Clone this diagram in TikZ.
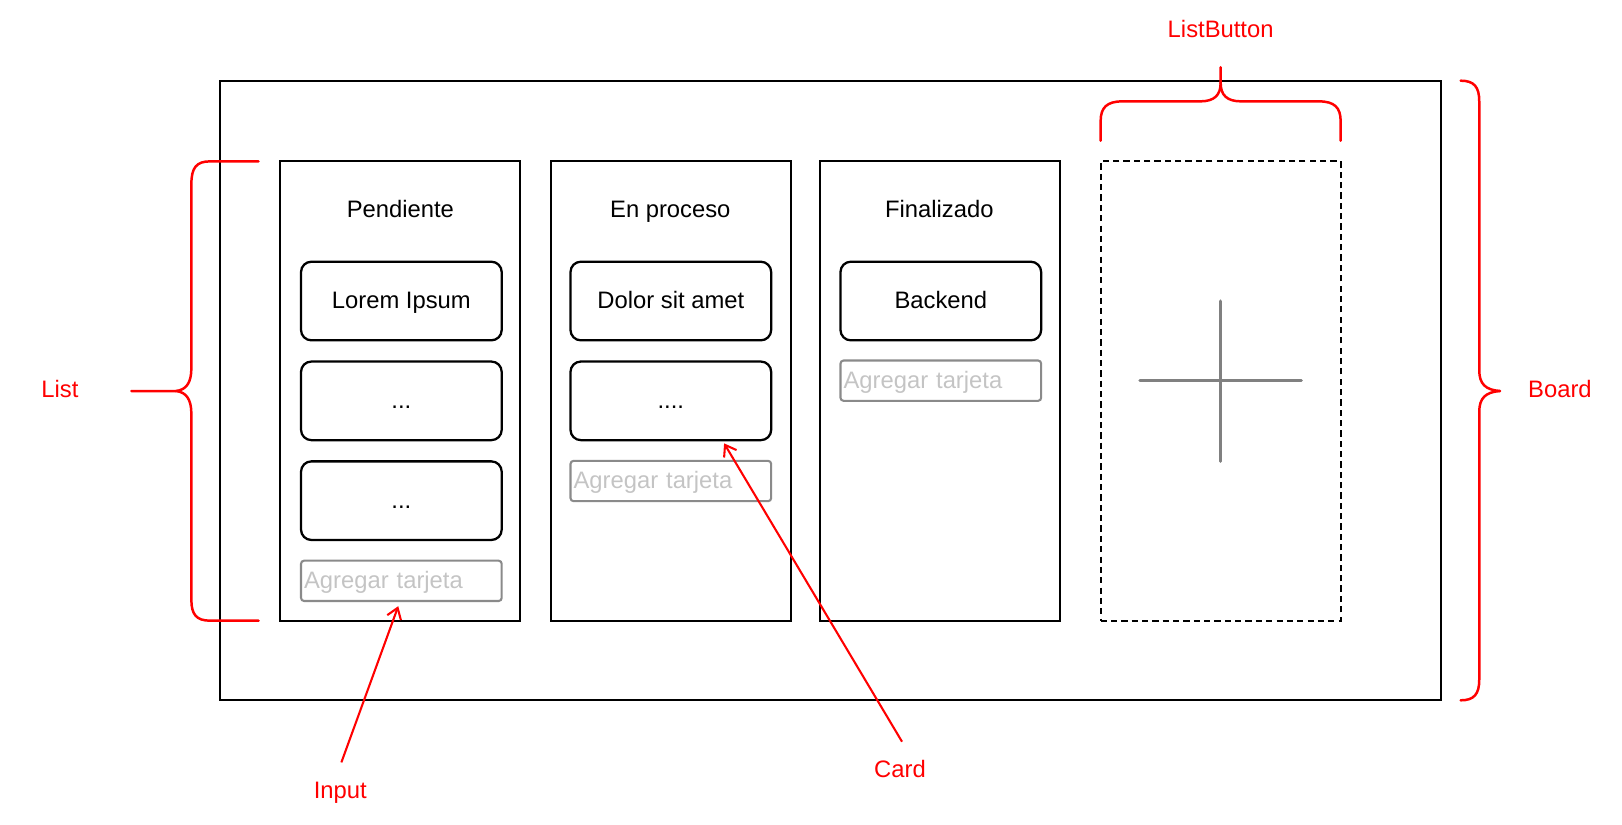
\documentclass[tikz,border=0pt]{standalone}
\usepackage{fontspec}
\setmainfont{Liberation Sans}
\usetikzlibrary{arrows.meta,calc}
\definecolor{inpborder}{HTML}{8A8A8A}
\definecolor{inptext}{HTML}{C4C4C4}
\definecolor{plusgray}{HTML}{808080}
\definecolor{annot}{HTML}{FF0000}
\tikzset{
  capbox/.style={text height=0.716em, text depth=0pt},
  boardbox/.style={draw=black, line width=1pt, minimum width=590pt, minimum height=299.5pt, inner sep=0pt},
  listbox/.style={draw=black, line width=1pt, minimum width=116pt, minimum height=222pt, inner sep=0pt},
  addlist/.style={draw=black, line width=0.9pt, dash pattern=on 3pt off 2pt, minimum width=116pt, minimum height=222pt, inner sep=0pt},
  cardbox/.style={capbox, draw=black, line width=1.1pt, rounded corners=5pt, minimum width=97pt, minimum height=38pt, inner sep=0pt},
  inputbox/.style={capbox, draw=inpborder, line width=1pt, rounded corners=1.5pt, minimum height=19.5pt, text width=94pt, inner xsep=1.5pt, inner ysep=0pt, align=left, text=inptext},
  title/.style={capbox, inner sep=0pt, text=black},
  annotlabel/.style={capbox, inner sep=0pt, text=annot},
  brace/.style={draw=annot, line width=1.2pt, line cap=round, line join=round},
  annotarrow/.style={draw=annot, line width=1pt, -{Straight Barb[length=5pt,width=7pt]}},
  plusline/.style={draw=plusgray, line width=1.5pt, line cap=round}
}
\begin{document}
\begin{tikzpicture}[x=0.5pt,y=-0.5pt, font=\fontsize{11.5}{13}\selectfont]
\useasboundingbox (0,0) rectangle (1568,797);
% board
\node[boardbox] (board) at (803,377.5) {};
% lists
\node[listbox] (l1) at (387,378) {};
\node[listbox] (l2) at (649,378) {};
\node[listbox] (l3) at (909,378) {};
\node[addlist] (lb) at (1180,378) {};
% titles
\node[title] (t1) at (387,203) {Pendiente};
\node[title] (t2) at (648,203) {En proceso};
\node[title] (t3) at (908,203) {Finalizado};
% cards
\node[cardbox] (c11) at (388,291) {Lorem Ipsum};
\node[cardbox] (c12) at (388,387.5) {...};
\node[cardbox] (c13) at (388,484) {...};
\node[inputbox] (in1) at (388,561.5) {Agregar tarjeta};
\node[cardbox] (c21) at (648.5,291) {Dolor sit amet};
\node[cardbox] (c22) at (648.5,387.5) {....};
\node[inputbox] (in2) at (648.5,465) {Agregar tarjeta};
\node[cardbox] (c31) at (909.5,291) {Backend};
\node[inputbox] (in3) at (909.5,368) {Agregar tarjeta};
% plus
\coordinate (pt) at (1180,291);
\coordinate (pb) at (1180,446);
\coordinate (pl) at (1102,368);
\coordinate (pr) at (1258,368);
\draw[plusline] (pt) -- (pb);
\draw[plusline] (pl) -- (pr);
% labels
\node[annotlabel] (lblList) at (58,377) {List};
\node[annotlabel] (lblListButton) at (1180,29) {ListButton};
\node[annotlabel] (lblBoard) at (1508,377) {Board};
\node[annotlabel] (lblInput) at (329,765) {Input};
\node[annotlabel] (lblCard) at (870,744) {Card};
% List brace
\draw[brace] (250,156) -- (203,156) .. controls (190,156) and (185,162) .. (185,178)
  -- (185,356) .. controls (185,370) and (180,377) .. (170,378) -- (127,378);
\draw[brace] (170,378) .. controls (180,379) and (185,386) .. (185,400)
  -- (185,580) .. controls (185,594) and (190,600) .. (203,600) -- (250,600);
% ListButton brace
\draw[brace] (1064,136) -- (1064,117) .. controls (1064,104) and (1070,98) .. (1085,98)
  -- (1160,98) .. controls (1174,98) and (1180,92) .. (1180,80) -- (1180,65);
\draw[brace] (1180,80) .. controls (1180,92) and (1186,98) .. (1200,98)
  -- (1275,98) .. controls (1290,98) and (1296,104) .. (1296,117) -- (1296,136);
% Board brace
\draw[brace] (1412,78) .. controls (1425,78) and (1430,84) .. (1430,98)
  -- (1430,358) .. controls (1430,371) and (1436,377) .. (1450,378);
\draw[brace] (1450,378) .. controls (1436,379) and (1430,385) .. (1430,398)
  -- (1430,657) .. controls (1430,671) and (1425,677) .. (1412,677);
% arrows
\coordinate (inputStart) at (330,737);
\coordinate (cardStart) at (872,717);
\draw[annotarrow] (inputStart) -- ($(in1.south)+(-3,4)$);
\draw[annotarrow] (cardStart) -- ($(c22.south)+(51.5,2)$);
\end{tikzpicture}
\end{document}
